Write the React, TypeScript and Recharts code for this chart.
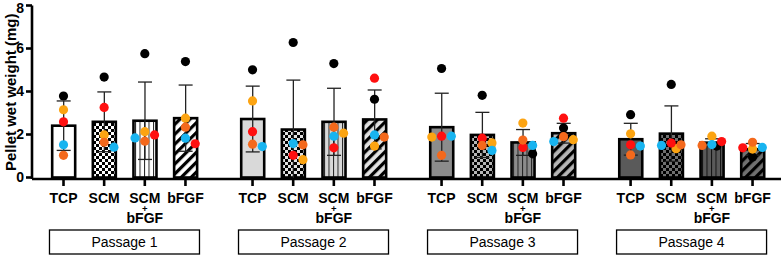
import React from "react";
import {
  ComposedChart,
  Bar,
  Cell,
  ErrorBar,
  Scatter,
  XAxis,
  YAxis,
} from "recharts";

const passages = ["Passage 1", "Passage 2", "Passage 3", "Passage 4"];
const conditions = ["TCP", "SCM", "SCM+bFGF", "bFGF"];
const yTicks = [0, 2, 4, 6, 8];

// mean and SD of pellet wet weight (mg), passage by passage, conditions in order
const meanWeight = [2.41, 2.59, 2.64, 2.76, 2.72, 2.23, 2.59, 2.7, 2.34, 1.98, 1.63, 2.06, 1.78, 2.04, 1.62, 1.31];
const sdWeight = [1.15, 1.39, 1.8, 1.54, 1.53, 2.3, 1.56, 1.37, 1.58, 1.05, 0.6, 0.46, 0.74, 1.29, 0.18, 0.27];

// one array per donor (dot colour)
const donorBlack = [3.79, 4.67, 5.76, 5.39, 5.01, 6.28, 5.3, 3.64, 5.07, 3.82, 1.1, 2.3, 2.92, 4.33, 1.46, 0.95];
const donorOrange = [3.15, 1.98, 2.13, 2.76, 3.56, 0.83, 2.06, 1.46, 1.88, 1.61, 2.53, 1.76, 2.03, 1.34, 1.92, 1.32];
const donorRed = [2.59, 3.26, 1.98, 1.57, 2.13, 1.03, 1.38, 4.62, 1.92, 1.83, 1.4, 2.76, 1.52, 1.6, 1.67, 1.38];
const donorBlue = [1.52, 1.41, 1.84, 1.83, 1.44, 1.58, 1.92, 1.98, 1.92, 1.26, 1.49, 1.67, 1.46, 1.49, 1.53, 1.4];
const donorDarkOrange = [1.03, 1.64, 1.69, 2.34, 1.55, 1.52, 2.34, 1.88, 1.03, 1.49, 1.74, 1.9, 1.05, 1.52, 1.49, 1.64];

const donors = [
  { name: "black", color: "#000000", values: donorBlack },
  { name: "orange", color: "#fca412", values: donorOrange },
  { name: "red", color: "#ff1010", values: donorRed },
  { name: "blue", color: "#18b4f0", values: donorBlue },
  { name: "darkOrange", color: "#f4691c", values: donorDarkOrange },
];

const FONT = "'Liberation Sans', Arial, sans-serif";
const GROUP_STEP = 4.65; // x units between first bars of neighbouring passages
const X_DOMAIN = [-0.775, 17.65];
const BAR_W = 23;
const passageFill = ["#ffffff", "#d9d9d9", "#8c8c8c", "#5a5a5a"];
const patternFill = ["#ffffff", "#e2e2e2", "#b6b6b6", "#707070"];

const positions = passages.flatMap((_, g) => conditions.map((_, i) => g * GROUP_STEP + i));
const groupCenters = passages.map((_, g) => g * GROUP_STEP + (conditions.length - 1) / 2);

const rows = positions.map((x, b) => ({ x, mean: meanWeight[b], sd: sdWeight[b] }));

// simple beeswarm: dots too close in value move sideways (overlap allowed, like Prism)
const DOT_GAP = 0.3;
const SIDE_STEP = 0.24;
function spread(values: number[]) {
  const order = values.map((_, k) => k).sort((a, b) => values[b] - values[a]);
  const slots = [0, 1, -1, 0.5, -0.5];
  const taken: { v: number; s: number }[] = [];
  const out = values.map(() => 0);
  for (const k of order) {
    const v = values[k];
    const s =
      slots.find((s) => !taken.some((t) => t.s === s && Math.abs(t.v - v) < DOT_GAP)) ?? 0;
    taken.push({ v, s });
    out[k] = s * SIDE_STEP;
  }
  return out;
}

const offsets = positions.map((_, b) => spread(donors.map((d) => d.values[b])));
const donorPoints = donors.map((d, k) =>
  positions.map((x, b) => ({ x: x + offsets[b][k], y: d.values[b] }))
);

function barFill(b: number) {
  const i = b % conditions.length;
  return i === 0 ? passageFill[Math.floor(b / conditions.length)] : `url(#bar-pattern-${b})`;
}

function Patterns() {
  return (
    <defs>
      {positions.map((_, b) => {
        const g = Math.floor(b / conditions.length);
        const i = b % conditions.length;
        const id = `bar-pattern-${b}`;
        if (i === 1) {
          return (
            <pattern key={id} id={id} width={6} height={6} patternUnits="userSpaceOnUse">
              <rect width={6} height={6} fill={patternFill[g]} />
              <rect width={3} height={3} fill="#000" />
              <rect x={3} y={3} width={3} height={3} fill="#000" />
            </pattern>
          );
        }
        if (i === 2) {
          return (
            <pattern key={id} id={id} width={4.5} height={4} patternUnits="userSpaceOnUse">
              <rect width={4.5} height={4} fill={passageFill[g]} />
              <rect width={1} height={4} fill={g === 3 ? "#111" : "#222"} />
            </pattern>
          );
        }
        if (i === 3) {
          return (
            <pattern
              key={id}
              id={id}
              width={7}
              height={7}
              patternUnits="userSpaceOnUse"
              patternTransform="rotate(45)"
            >
              <rect width={7} height={7} fill={patternFill[g]} />
              <rect width={3.2} height={7} fill="#000" />
            </pattern>
          );
        }
        return null;
      })}
    </defs>
  );
}

// keep the bar centred on its slot but with the reference width
function BarShape({ x, y, width, height, fill }: any) {
  const cx = x + width / 2;
  return (
    <rect
      x={cx - BAR_W / 2}
      y={y}
      width={BAR_W}
      height={height}
      fill={fill}
      stroke="#000"
      strokeWidth={2.6}
    />
  );
}

function ConditionTick({ x, y, index }: any) {
  const [top, bottom] = conditions[index % conditions.length].split("+");
  return (
    <g transform={`translate(${x},${y})`} fontFamily={FONT} fontWeight={700} fill="#000">
      <text y={15} fontSize={14} textAnchor="middle">
        {top}
      </text>
      {bottom && (
        <text y={23.5} fontSize={9.5} textAnchor="middle">
          +
        </text>
      )}
      {bottom && (
        <text y={35} fontSize={14} textAnchor="middle">
          {bottom}
        </text>
      )}
    </g>
  );
}

function PassageTick({ x, y, index }: any) {
  return (
    <g transform={`translate(${x},${y})`}>
      <rect x={-75} y={3} width={150} height={24} fill="#fff" stroke="#000" strokeWidth={1.3} />
      <text y={20} textAnchor="middle" fontSize={14} fontFamily={FONT} fill="#000">
        {passages[index]}
      </text>
    </g>
  );
}

const yLabel = ({ viewBox }: any) => {
  const cx = viewBox.x + 10;
  const cy = viewBox.y + viewBox.height / 2;
  return (
    <text
      x={cx}
      y={cy}
      transform={`rotate(-90 ${cx} ${cy})`}
      textAnchor="middle"
      dominantBaseline="central"
      fontFamily={FONT}
      fontWeight={700}
      fontSize={15}
      fill="#000"
    >
      Pellet wet weight (mg)
    </text>
  );
};

const dot = (color: string) => (props: any) =>
  <circle cx={props.cx} cy={props.cy} r={4.6} fill={color} />;

const axisStroke = { stroke: "#000", strokeWidth: 2.6 };

export default function App() {
  return (
    <div style={{ position: "absolute", left: 0, top: 0, background: "#fff" }}>
      <ComposedChart
        width={782}
        height={256}
        data={rows}
        margin={{ top: 5.5, right: 1, bottom: 0, left: 0 }}
      >
        <Patterns />
        <XAxis
          type="number"
          dataKey="x"
          domain={X_DOMAIN}
          allowDataOverflow
          ticks={positions}
          interval={0}
          height={48}
          axisLine={axisStroke}
          tickLine={axisStroke}
          tickSize={7}
          tick={<ConditionTick />}
        />
        <XAxis
          xAxisId="passage"
          type="number"
          dataKey="x"
          domain={X_DOMAIN}
          allowDataOverflow
          ticks={groupCenters}
          interval={0}
          height={29}
          axisLine={false}
          tickLine={false}
          tickSize={0}
          tickMargin={0}
          tick={<PassageTick />}
        />
        <YAxis
          type="number"
          domain={[0, 8]}
          ticks={yTicks}
          width={32}
          axisLine={axisStroke}
          tickLine={axisStroke}
          tickSize={6}
          tick={{ fill: "#000", fontSize: 14, fontWeight: 700, fontFamily: FONT }}
          label={yLabel}
        />
        <Bar dataKey="mean" barSize={BAR_W} shape={<BarShape />} isAnimationActive={false}>
          {rows.map((_, b) => (
            <Cell key={b} fill={barFill(b)} />
          ))}
          <ErrorBar dataKey="sd" width={7} stroke="#222" strokeWidth={1.3} direction="y" />
        </Bar>
        {donors.map((d, k) => (
          <Scatter
            key={d.name}
            xAxisId="passage"
            data={donorPoints[k]}
            dataKey="y"
            fill={d.color}
            shape={dot(d.color)}
            isAnimationActive={false}
          />
        ))}
      </ComposedChart>
    </div>
  );
}
